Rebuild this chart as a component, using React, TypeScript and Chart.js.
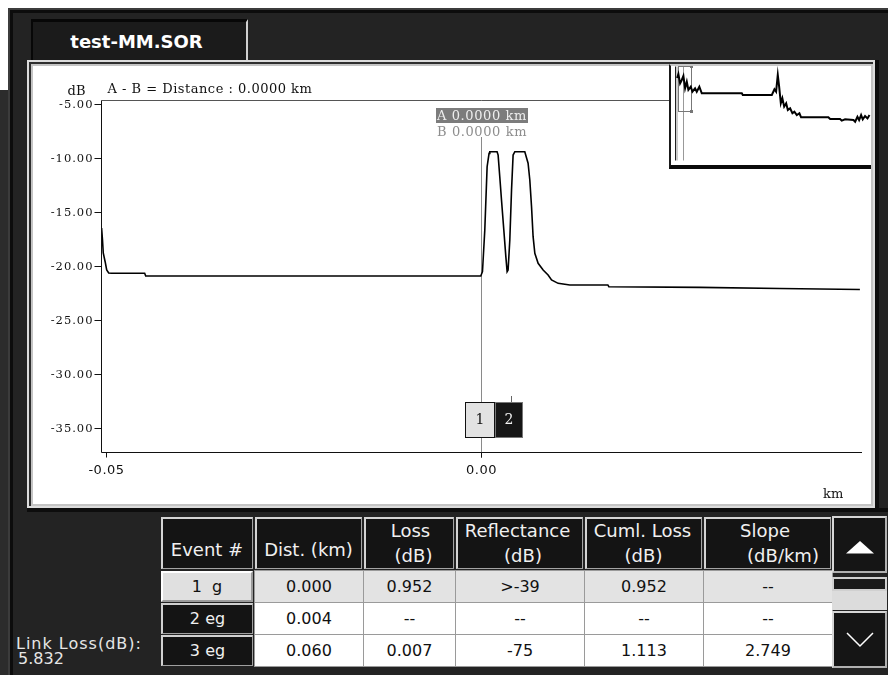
import React, { useEffect, useRef } from "react";
import { Chart, registerables } from "chart.js";

Chart.register(...registerables);

// ---------------- data ----------------
const TITLE = "test-MM.SOR";

const TRACE_KM = [
  -0.05072, -0.0506, -0.0505, -0.05024, -0.05004, -0.04977, -0.04937, -0.04497, -0.04483, -0.0001,
  0.00013, 0.00044, 0.00075, 0.00101, 0.00111, 0.00208, 0.00222, 0.00244, 0.00267, 0.00298,
  0.00325, 0.00342, 0.00355, 0.00378, 0.00401, 0.00422, 0.00445, 0.00578, 0.00622, 0.00645,
  0.00668, 0.00689, 0.00712, 0.00756, 0.00823, 0.00889, 0.00935, 0.01023, 0.01179, 0.01687,
  0.017, 0.02915, 0.03984, 0.05052,
];
const TRACE_DB = [
  -16.44, -17.55, -18.75, -19.58, -20.32, -20.6, -20.63, -20.63, -20.88, -20.88,
  -20.48, -16.62, -10.76, -9.52, -9.37, -9.37, -9.68, -11.69, -13.84, -16.62,
  -19.09, -20.48, -20.32, -17.55, -12.92, -9.68, -9.37, -9.37, -10.44, -11.99,
  -14.46, -17.24, -18.78, -19.7, -20.32, -20.79, -21.25, -21.56, -21.71, -21.71,
  -21.87, -21.93, -22.04, -22.13,
];

const INSET_KM = [
  0.0, 0.0085, 0.0197, 0.0309, 0.0414, 0.0525, 0.0637, 0.0742, 0.09, 0.1005,
  0.118, 0.129, 0.146, 0.162, 0.425, 0.431, 0.622, 0.639, 0.65, 0.661,
  0.67, 0.681, 0.691, 0.703, 0.716, 0.727, 0.742, 0.757, 0.77, 0.786,
  0.803, 0.814, 0.993, 1.005, 1.07, 1.081, 1.103, 1.158, 1.169, 1.184,
  1.195, 1.208, 1.219, 1.234, 1.25, 1.263,
];
const INSET_DB = [
  -11.5, -9.0, -14.8, -12.7, -10.2, -17.9, -13.8, -18.9, -16.9, -20.0,
  -17.9, -20.0, -16.9, -21.0, -21.0, -22.0, -22.0, -18.5, -20.0, -9.6,
  -16.9, -27.2, -24.1, -29.3, -27.2, -31.4, -30.3, -33.4, -32.4, -34.5,
  -33.4, -35.9, -35.9, -37.0, -37.0, -38.0, -37.2, -37.6, -38.7, -35.6,
  -37.6, -34.5, -37.2, -35.1, -36.6, -34.5,
];
const INSET_WINDOW_KM = [0.0066, 0.0919];
const INSET_WINDOW_DB = [-4.6, -32.6];
const INSET_CURSOR_KM = [-0.0085, 0.0414];
const INSET_CURSOR_BOTTOM_DB = -62.5;

const Y_TICKS = [-5, -10, -15, -20, -25, -30, -35];
const X_TICKS = [-0.05, 0.0];
const X_RANGE = [-0.0508, 0.0508];
const Y_RANGE = [-37.18, -4.58];
const INSET_X_RANGE = [-0.04, 1.273];
const INSET_Y_RANGE = [-65.6, -4];

const CURSOR_A_KM = 0.0;
const CURSOR_B_KM = 0.0;
const EVENT_KM = [0.0, 0.004];
const EVENT_IDS = ["1", "2"];

const HEADERS = [["Event #"], ["Dist. (km)"], ["Loss", "(dB)"], ["Reflectance", "(dB)"], ["Cuml. Loss", "(dB)"], ["Slope", "(dB/km)"]];
const EVENT_LABELS = ["1  g", "2 eg", "3 eg"];
const DIST = ["0.000", "0.004", "0.060"];
const LOSS = ["0.952", "--", "0.007"];
const REFL = [">-39", "--", "-75"];
const CUML = ["0.952", "--", "1.113"];
const SLOPE = ["--", "--", "2.749"];
const LINK_LOSS_LABEL = "Link Loss(dB):";
const LINK_LOSS = "5.832";

// ---------------- layout ----------------
const COL_X = [160, 254, 363, 455, 584, 703, 832];
const ROW_Y = [570, 602, 634];
const HEADER_DX = [[0], [0], [1.5, 4.5], [-2, 3.5], [-1, 0], [-2.5, 15.5]];

const S = (o: React.CSSProperties): React.CSSProperties => ({ position: "absolute", boxSizing: "border-box", ...o });

const mainOverlay = {
  id: "otdrOverlay",
  beforeDatasetsDraw(chart: any) {
    const ctx = chart.ctx;
    const xs = chart.scales.x;
    const { top, bottom } = chart.chartArea;
    const cx = Math.floor(xs.getPixelForValue(CURSOR_A_KM)) + 0.5;
    ctx.save();
    ctx.strokeStyle = "#8a8a8a";
    ctx.lineWidth = 1;
    ctx.beginPath();
    ctx.moveTo(cx, top + 37);
    ctx.lineTo(cx, bottom + 6);
    ctx.stroke();
    ctx.restore();
  },
  afterDraw(chart: any) {
    const ctx = chart.ctx;
    const xs = chart.scales.x;
    const ys = chart.scales.y;
    const { left, right, top, bottom } = chart.chartArea;
    const L = Math.floor(left) + 0.5;
    const B = Math.floor(bottom) + 0.5;
    const T = Math.floor(top) + 0.5;
    ctx.save();
    ctx.lineWidth = 1;
    ctx.strokeStyle = "#555";
    ctx.beginPath();
    ctx.moveTo(L, T);
    ctx.lineTo(right, T);
    ctx.stroke();
    ctx.strokeStyle = "#111";
    ctx.beginPath();
    ctx.moveTo(L, T);
    ctx.lineTo(L, B);
    ctx.lineTo(right, B);
    ctx.stroke();

    // y ticks
    ctx.font = '11.5px "DejaVu Serif"';
    ctx.fillStyle = "#111";
    ctx.textAlign = "right";
    ctx.textBaseline = "middle";
    ctx.letterSpacing = "1px";
    for (const v of Y_TICKS) {
      const y = Math.floor(ys.getPixelForValue(v)) + 0.5;
      ctx.beginPath();
      ctx.moveTo(L - 7, y);
      ctx.lineTo(L, y);
      ctx.stroke();
      ctx.fillText(v.toFixed(2), L - 8, y + 0.5);
    }
    // x ticks
    ctx.font = '13px "DejaVu Sans"';
    ctx.letterSpacing = "0.5px";
    ctx.textAlign = "center";
    for (const v of X_TICKS) {
      const x = Math.floor(xs.getPixelForValue(v)) + 0.5;
      ctx.beginPath();
      ctx.moveTo(x, B);
      ctx.lineTo(x, B + 5);
      ctx.stroke();
      ctx.fillText(v.toFixed(2), x, B + 18);
    }
    // axis titles
    ctx.font = '13px "DejaVu Serif"';
    ctx.letterSpacing = "0px";
    ctx.textBaseline = "alphabetic";
    ctx.textAlign = "center";
    ctx.fillText("dB", L - 25, top - 5);
    ctx.textAlign = "left";
    ctx.fillText("km", right - 39, B + 45);
    ctx.letterSpacing = "0.5px";
    ctx.fillText("A - B = Distance : " + Math.abs(CURSOR_A_KM - CURSOR_B_KM).toFixed(4) + " km", L + 6, top - 7);

    // cursor labels
    const cx = Math.floor(xs.getPixelForValue(CURSOR_A_KM)) + 0.5;
    ctx.fillStyle = "#7c7c7c";
    ctx.fillRect(cx - 45.5, top + 8, 92, 15);
    ctx.letterSpacing = "0.6px";
    ctx.fillStyle = "#eeeeee";
    ctx.fillText("A " + CURSOR_A_KM.toFixed(4) + " km", cx - 44.5, top + 20);
    ctx.fillStyle = "#8e8e8e";
    ctx.fillText("B " + CURSOR_B_KM.toFixed(4) + " km", cx - 44.5, top + 36);

    // event markers
    const e0 = Math.floor(xs.getPixelForValue(EVENT_KM[0]));
    const e1 = Math.floor(xs.getPixelForValue(EVENT_KM[1])) + 0.5;
    const by = Math.floor(bottom) - 50;
    ctx.strokeStyle = "#666";
    ctx.beginPath();
    ctx.moveTo(e1, by - 6);
    ctx.lineTo(e1, by);
    ctx.stroke();
    const boxes = [
      { x: e0 - 16, w: 30, fill: "#e2e2e2", stroke: "#111", text: "#111" },
      { x: e0 + 14, w: 28, fill: "#161616", stroke: "#777", text: "#f2f2f2" },
    ];
    ctx.font = '14px "DejaVu Serif"';
    ctx.letterSpacing = "0px";
    ctx.textAlign = "center";
    ctx.textBaseline = "middle";
    boxes.forEach((b, i) => {
      ctx.fillStyle = b.fill;
      ctx.fillRect(b.x, by, b.w, 36);
      ctx.strokeStyle = b.stroke;
      ctx.strokeRect(b.x + 0.5, by + 0.5, b.w - 1, 35);
      ctx.fillStyle = b.text;
      ctx.fillText(EVENT_IDS[i], b.x + b.w / 2, by + 18);
    });
    ctx.restore();
  },
};

const insetOverlay = {
  id: "insetOverlay",
  beforeDatasetsDraw(chart: any) {
    const ctx = chart.ctx;
    const xs = chart.scales.x;
    const ys = chart.scales.y;
    const yTop = Math.floor(ys.getPixelForValue(INSET_WINDOW_DB[0])) + 0.5;
    const yBot = Math.floor(ys.getPixelForValue(INSET_CURSOR_BOTTOM_DB)) + 0.5;
    ctx.save();
    ctx.lineWidth = 1;
    const c0 = Math.floor(xs.getPixelForValue(INSET_CURSOR_KM[0])) + 0.5;
    const c1 = Math.floor(xs.getPixelForValue(INSET_CURSOR_KM[1])) + 0.5;
    ctx.strokeStyle = "#222";
    ctx.beginPath();
    ctx.moveTo(c0, yTop);
    ctx.lineTo(c0, yBot);
    ctx.stroke();
    ctx.strokeStyle = "#999";
    ctx.beginPath();
    ctx.moveTo(c0 + 1.5, yTop);
    ctx.lineTo(c0 + 1.5, yBot);
    ctx.moveTo(c1, yTop);
    ctx.lineTo(c1, yBot);
    ctx.stroke();
    const wx0 = Math.floor(xs.getPixelForValue(INSET_WINDOW_KM[0])) + 0.5;
    const wx1 = Math.floor(xs.getPixelForValue(INSET_WINDOW_KM[1])) + 0.5;
    const wy1 = Math.floor(ys.getPixelForValue(INSET_WINDOW_DB[1])) + 0.5;
    ctx.strokeStyle = "#777";
    ctx.strokeRect(wx0, yTop, wx1 - wx0, wy1 - yTop);
    ctx.fillStyle = "#777";
    ctx.fillRect(wx1 - 1.5, yTop - 1.5, 3, 3);
    ctx.fillRect(wx1 - 1.5, wy1 - 1.5, 3, 3);
    ctx.restore();
  },
};

function MainTrace() {
  const ref = useRef<HTMLCanvasElement>(null);
  useEffect(() => {
    const chart = new Chart(ref.current as HTMLCanvasElement, {
      type: "line",
      data: {
        datasets: [
          {
            data: TRACE_KM.map((x, i) => ({ x, y: TRACE_DB[i] })),
            borderColor: "#000",
            borderWidth: 1.6,
            pointRadius: 0,
            tension: 0,
            fill: false,
          },
        ],
      },
      options: {
        animation: false,
        responsive: false,
        maintainAspectRatio: false,
        events: [],
        layout: { padding: { top: 34, right: 9, left: 0, bottom: 0 } },
        plugins: { legend: { display: false }, tooltip: { enabled: false } },
        scales: {
          x: {
            type: "linear",
            min: X_RANGE[0],
            max: X_RANGE[1],
            ticks: { display: false },
            grid: { display: false },
            border: { display: false },
            afterFit: (s: any) => {
              s.height = 52;
            },
          },
          y: {
            type: "linear",
            min: Y_RANGE[0],
            max: Y_RANGE[1],
            ticks: { display: false },
            grid: { display: false },
            border: { display: false },
            afterFit: (s: any) => {
              s.width = 68;
            },
          },
        },
      } as any,
      plugins: [mainOverlay],
    });
    return () => chart.destroy();
  }, []);
  return <canvas ref={ref} width={838} height={438} style={{ position: "absolute", left: 33, top: 66, width: 838, height: 438 }} />;
}

function InsetTrace() {
  const ref = useRef<HTMLCanvasElement>(null);
  useEffect(() => {
    const chart = new Chart(ref.current as HTMLCanvasElement, {
      type: "line",
      data: {
        datasets: [
          {
            data: INSET_KM.map((x, i) => ({ x, y: INSET_DB[i] })),
            borderColor: "#000",
            borderWidth: 2,
            pointRadius: 0,
            tension: 0,
            fill: false,
          },
        ],
      },
      options: {
        animation: false,
        responsive: false,
        maintainAspectRatio: false,
        events: [],
        layout: { padding: 0 },
        plugins: { legend: { display: false }, tooltip: { enabled: false } },
        scales: {
          x: { type: "linear", display: false, min: INSET_X_RANGE[0], max: INSET_X_RANGE[1] },
          y: { type: "linear", display: false, min: INSET_Y_RANGE[0], max: INSET_Y_RANGE[1] },
        },
      } as any,
      plugins: [insetOverlay],
    });
    return () => chart.destroy();
  }, []);
  return <canvas ref={ref} width={200} height={99} style={{ position: "absolute", left: 671, top: 66, width: 200, height: 99 }} />;
}

const sans = '"DejaVu Sans", sans-serif';

function Table() {
  const cols = [DIST, LOSS, REFL, CUML, SLOPE];
  const els: React.ReactNode[] = [];
  HEADERS.forEach((lines, i) => {
    const x0 = COL_X[i];
    const w = COL_X[i + 1] - COL_X[i];
    els.push(
      <div
        key={"h" + i}
        style={S({
          left: x0 + 1,
          top: 517,
          width: w - 2,
          height: 52,
          background: "#141414",
          borderTop: "2px solid #d4d4d4",
          borderLeft: "2px solid #d4d4d4",
          borderRight: "1px solid #a4a4a4",
          borderBottom: "1px solid #a4a4a4",
        })}
      />
    );
    lines.forEach((t, j) => {
      const top = lines.length === 1 ? 540 : j === 0 ? 521 : 546;
      els.push(
        <div
          key={"ht" + i + "_" + j}
          style={S({
            left: x0 + HEADER_DX[i][j],
            top,
            width: w,
            height: 20,
            lineHeight: "20px",
            textAlign: "center",
            color: "#f0f0f0",
            fontFamily: sans,
            fontSize: 18,
            whiteSpace: "pre",
          })}
        >
          {t}
        </div>
      );
    });
  });
  EVENT_LABELS.forEach((lab, r) => {
    const light = r === 0;
    els.push(
      <div
        key={"e" + r}
        style={S({
          left: 161,
          top: ROW_Y[r] + 1,
          width: 92,
          height: 31,
          background: light ? "#e0e0e0" : "#141414",
          borderTop: light ? "2px solid #ffffff" : "2px solid #d0d0d0",
          borderLeft: light ? "2px solid #ffffff" : "2px solid #d0d0d0",
          borderRight: light ? "2px solid #9a9a9a" : "1px solid #a0a0a0",
          borderBottom: light ? "2px solid #9a9a9a" : "1px solid #a0a0a0",
          color: light ? "#111" : "#f0f0f0",
          fontFamily: sans,
          fontSize: 16,
          lineHeight: "27px",
          textAlign: "center",
          whiteSpace: "pre",
        })}
      >
        {lab}
      </div>
    );
    cols.forEach((arr, c) => {
      const x0 = COL_X[c + 1];
      const w = COL_X[c + 2] - x0 + 1;
      els.push(
        <div
          key={"d" + r + "_" + c}
          style={S({
            left: x0,
            top: ROW_Y[r],
            width: w,
            height: 33,
            background: light ? "#e3e3e3" : "#ffffff",
            border: "1px solid #9a9a9a",
            color: "#111",
            fontFamily: sans,
            fontSize: 16,
            lineHeight: "31px",
            textAlign: "center",
          })}
        >
          {arr[r]}
        </div>
      );
    });
  });
  return <>{els}</>;
}

function ScrollBar() {
  const btn: React.CSSProperties = {
    background: "#151515",
    borderTop: "2px solid #d6d6d6",
    borderLeft: "2px solid #d6d6d6",
    borderRight: "2px solid #b0b0b0",
    borderBottom: "2px solid #b0b0b0",
  };
  return (
    <>
      <div style={S({ left: 832, top: 516, width: 55, height: 57, ...btn })} />
      <svg width={28} height={13} style={S({ left: 846, top: 541 })}>
        <polygon points="0,12.5 14,0 28,12.5" fill="#ffffff" />
      </svg>
      <div style={S({ left: 832, top: 577, width: 55, height: 14, background: "#1a1a1a", border: "2px solid #d0d0d0" })} />
      <div style={S({ left: 832, top: 591, width: 55, height: 19, background: "#dcdcdc" })} />
      <div style={S({ left: 832, top: 611, width: 55, height: 57, ...btn })} />
      <svg width={28} height={16} style={S({ left: 846, top: 632 })}>
        <polyline points="1,1 14,14 27,1" fill="none" stroke="#ffffff" strokeWidth={1.5} />
      </svg>
    </>
  );
}

export default function App() {
  return (
    <div style={S({ left: 0, top: 0, width: 888, height: 675, overflow: "hidden", background: "#ffffff" })}>
      {/* outer frame */}
      <div
        style={S({
          left: 8,
          top: 8,
          width: 890,
          height: 680,
          background: "#232323",
          boxShadow: "inset 2px 2px 0 #3c3c3c, inset 5px 5px 0 #0c0c0c",
        })}
      />
      <div style={S({ left: 0, top: 90, width: 8, height: 600, background: "#2c2c2c" })} />

      {/* tab */}
      <div
        style={S({
          left: 31,
          top: 19,
          width: 217,
          height: 41,
          background: "#1b1b1b",
          borderTop: "3px solid #070707",
          borderLeft: "2px solid #070707",
          borderRight: "2px solid #d0d0d0",
          color: "#ffffff",
          fontFamily: sans,
          fontWeight: "bold",
          fontSize: 18,
          display: "flex",
          alignItems: "center",
          justifyContent: "center",
          paddingRight: 6,
        })}
      >
        {TITLE}
      </div>

      {/* chart panel bevel */}
      <div style={S({ left: 27, top: 60, width: 848, height: 448, background: "#dcdcdc" })} />
      <div style={S({ left: 29, top: 62, width: 844, height: 444, background: "#2e2e2e" })} />
      <div style={S({ left: 31, top: 64, width: 842, height: 442, background: "#c4c4c4" })} />
      <div style={S({ left: 33, top: 66, width: 838, height: 438, background: "#ffffff" })} />
      <div style={S({ left: 27, top: 508, width: 861, height: 4, background: "#0d0d0d" })} />
      <div style={S({ left: 875, top: 60, width: 4, height: 452, background: "#0d0d0d" })} />

      <MainTrace />

      {/* inset overview */}
      <div
        style={S({
          left: 669,
          top: 64,
          width: 202,
          height: 105,
          background: "#ffffff",
          borderLeft: "2px solid #1a1a1a",
          borderTop: "2px solid #c8c8c8",
          borderBottom: "4px solid #0a0a0a",
        })}
      />
      <InsetTrace />

      <Table />
      <ScrollBar />

      <div style={S({ left: 16, top: 634, color: "#e6e6e6", fontFamily: sans, fontSize: 16, lineHeight: "20px", letterSpacing: 1, whiteSpace: "pre" })}>
        {LINK_LOSS_LABEL}
      </div>
      <div style={S({ left: 18, top: 649, color: "#e6e6e6", fontFamily: sans, fontSize: 16, lineHeight: "20px", whiteSpace: "pre" })}>
        {LINK_LOSS}
      </div>
    </div>
  );
}
